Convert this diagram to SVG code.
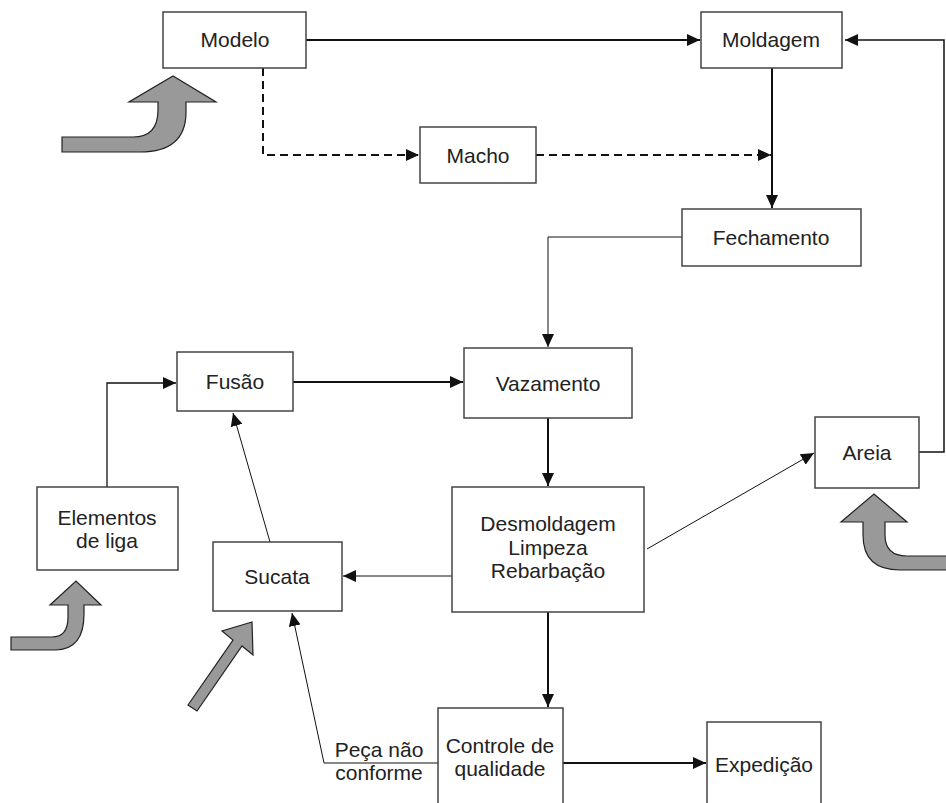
<svg xmlns="http://www.w3.org/2000/svg" width="946" height="803" viewBox="0 0 946 803">
<style>
.box{fill:#fff;stroke:#444;stroke-width:1.5}
.t{font-family:"Liberation Sans",Arial,sans-serif;font-size:21px;fill:#222;text-anchor:middle}
.c{fill:none;stroke:#111}
.thick{stroke-width:2}
.thin{stroke-width:1}
.dash{stroke-dasharray:8 5}
.big{fill:#999;stroke:#222;stroke-width:1.2;stroke-linejoin:miter}
</style>
<defs>
<marker id="ah" markerUnits="userSpaceOnUse" markerWidth="14" markerHeight="14" viewBox="0 0 14 14" refX="13" refY="7" orient="auto">
<path d="M0,1 L13,7 L0,13 Z" fill="#111"/>
</marker>
</defs>
<rect width="946" height="803" fill="#fff"/>
<g id="connectors">
<line class="c thick" x1="306" y1="40" x2="700" y2="40" marker-end="url(#ah)"/>
<polyline class="c thick dash" points="263,68 263,155 419,155" marker-end="url(#ah)"/>
<line class="c thick dash" x1="536" y1="155" x2="771" y2="155" marker-end="url(#ah)"/>
<line class="c thick" x1="772" y1="68" x2="772" y2="208" marker-end="url(#ah)"/>
<polyline class="c thin" points="682,237 548,237 548,347" marker-end="url(#ah)"/>
<line class="c thick" x1="293" y1="382" x2="463" y2="382" marker-end="url(#ah)"/>
<line class="c thick" x1="548" y1="418" x2="548" y2="486" marker-end="url(#ah)"/>
<line class="c thin" x1="452" y1="576" x2="343" y2="576" marker-end="url(#ah)"/>
<line class="c thin" x1="647" y1="549" x2="814" y2="453" marker-end="url(#ah)"/>
<line class="c thick" x1="548" y1="612" x2="548" y2="707" marker-end="url(#ah)"/>
<line class="c thick" x1="563" y1="763" x2="706" y2="763" marker-end="url(#ah)"/>
<polyline class="c thin" points="438,763 324,763 292,613" marker-end="url(#ah)"/>
<polyline class="c thin" style="stroke-width:1.3" points="107,487 107,383 176,383" marker-end="url(#ah)"/>
<line class="c thin" x1="270" y1="542" x2="233" y2="413" marker-end="url(#ah)"/>
<polyline class="c" style="stroke-width:1.5" points="919,452 944,452 944,40 845,40" marker-end="url(#ah)"/>
</g>
<g id="inputs">
<path class="big" d="M62,137 L133,137 Q158,137 158,110 L158,102 L129,102 L173,76 L216,102 L186,102 L186,112 Q186,152 140,152 L62,152 Z"/>
<path class="big" d="M11,637 L52,637 Q68,637 68,617 L68,605 L50,605 L76,581 L101,605 L84,605 L84,614 Q84,650 55,650 L11,650 Z"/>
<path class="big" d="M188,705 L233,640 L222,631 L252,622 L253,655 L242,646 L197,711 Z"/>
<path class="big" d="M946,556 L907,556 Q885,556 885,535 L885,522 L907,522 L874,494 L841,522 L863,522 L863,535 Q863,570 900,570 L946,570"/>
</g>
<g id="modelo"><rect class="box" x="163" y="12" width="143" height="56"/><text class="t" x="235" y="47">Modelo</text></g>
<g id="moldagem"><rect class="box" x="701" y="12" width="141" height="56"/><text class="t" x="771" y="47">Moldagem</text></g>
<g id="macho"><rect class="box" x="420" y="127" width="116" height="56"/><text class="t" x="478" y="163">Macho</text></g>
<g id="fechamento"><rect class="box" x="682" y="209" width="179" height="57"/><text class="t" x="771" y="245">Fechamento</text></g>
<g id="fusao"><rect class="box" x="177" y="352" width="116" height="59"/><text class="t" x="235" y="389">Fusão</text></g>
<g id="vazamento"><rect class="box" x="464" y="348" width="168" height="70"/><text class="t" x="548" y="391">Vazamento</text></g>
<g id="elementos"><rect class="box" x="37" y="487" width="141" height="83"/><text class="t" x="107" y="525">Elementos</text><text class="t" x="107" y="548">de liga</text></g>
<g id="areia"><rect class="box" x="815" y="417" width="104" height="71"/><text class="t" x="867" y="460">Areia</text></g>
<g id="desmoldagem"><rect class="box" x="452" y="487" width="192" height="125"/><text class="t" x="548" y="531">Desmoldagem</text><text class="t" x="548" y="555">Limpeza</text><text class="t" x="548" y="578">Rebarbação</text></g>
<g id="sucata"><rect class="box" x="213" y="542" width="129" height="69"/><text class="t" x="277" y="584">Sucata</text></g>
<g id="controle"><rect class="box" x="438" y="708" width="125" height="110"/><text class="t" x="500" y="753">Controle de</text><text class="t" x="500" y="776">qualidade</text></g>
<g id="expedicao"><rect class="box" x="707" y="722" width="114" height="96"/><text class="t" x="764" y="772">Expedição</text></g>
<g id="label"><text class="t" x="379" y="757">Peça não</text><text class="t" x="379" y="780">conforme</text></g>
</svg>
